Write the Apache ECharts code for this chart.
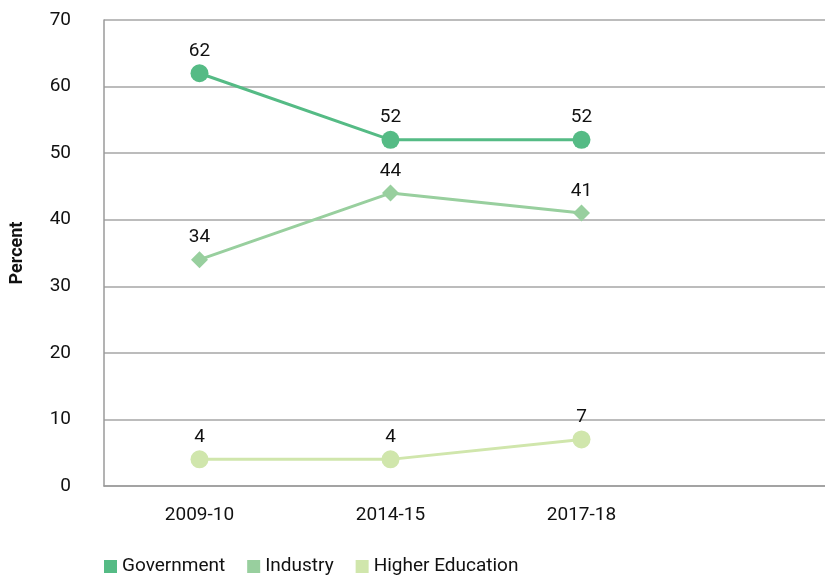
<!DOCTYPE html>
<html>
<head>
<meta charset="utf-8">
<script src="https://cdn.jsdelivr.net/npm/echarts@6/dist/echarts.min.js"></script>
<style>
  html, body { margin: 0; padding: 0; background: #fff; }
  #chart { width: 825px; height: 576px; }
</style>
</head>
<body>
<div id="chart"></div>
<script>
// Funding shares by sector (percent)
const categories = ['2009-10', '2014-15', '2017-18', ''];
const government = [62, 52, 52];
const industry = [34, 44, 41];
const higherEducation = [4, 4, 7];
const yTicks = { min: 0, max: 70, interval: 10 };

const FONT = '"Roboto", "Liberation Sans", sans-serif';
const colors = {
  government: '#55bb85',
  industry: '#98cf9e',
  higher: '#d0e6ac'
};

function lineSeries(name, data, color, symbol, size) {
  return {
    name: name,
    type: 'line',
    data: data,
    symbol: symbol,
    symbolSize: size,
    showAllSymbol: true,
    lineStyle: { color: color, width: 3 },
    itemStyle: { color: color },
    label: {
      show: true,
      position: 'top',
      distance: 4,
      color: '#111',
      fontFamily: FONT,
      fontSize: 19
    },
    emphasis: { disabled: true },
    animation: false
  };
}

const chart = echarts.init(document.getElementById('chart'));
chart.setOption({
  animation: false,
  color: [colors.government, colors.industry, colors.higher],
  // the fourth (empty) category band runs past the right edge of the canvas
  grid: {
    left: 104, top: 20, width: 764, height: 466,
    containLabel: false,
    outerBoundsMode: 'none'
  },
  legend: {
    left: 99,
    top: 552,
    icon: 'rect',
    itemWidth: 13,
    itemHeight: 13,
    itemGap: 22,
    textStyle: { fontFamily: FONT, fontSize: 19, color: '#111' },
    data: ['Government', 'Industry', 'Higher Education']
  },
  xAxis: {
    type: 'category',
    data: categories,
    boundaryGap: true,
    axisLine: { show: true, lineStyle: { color: '#9a9a9a', width: 1.5 } },
    axisTick: { show: false },
    axisLabel: { color: '#111', fontFamily: FONT, fontSize: 19, margin: 20 }
  },
  yAxis: {
    type: 'value',
    min: yTicks.min,
    max: yTicks.max,
    interval: yTicks.interval,
    name: 'Percent',
    nameLocation: 'middle',
    nameGap: 78,
    nameRotate: 90,
    nameTextStyle: { fontFamily: FONT, fontSize: 18, fontWeight: 'bold', color: '#111' },
    axisLine: { show: true, lineStyle: { color: '#9a9a9a', width: 1.5 } },
    axisTick: { show: false },
    axisLabel: { color: '#111', fontFamily: FONT, fontSize: 19, margin: 33 },
    splitLine: { show: true, lineStyle: { color: '#a6a6a6', width: 1.5 } }
  },
  series: [
    lineSeries('Government', government, colors.government, 'circle', 18),
    lineSeries('Industry', industry, colors.industry, 'diamond', 17),
    lineSeries('Higher Education', higherEducation, colors.higher, 'circle', 18)
  ]
});
</script>
</body>
</html>
